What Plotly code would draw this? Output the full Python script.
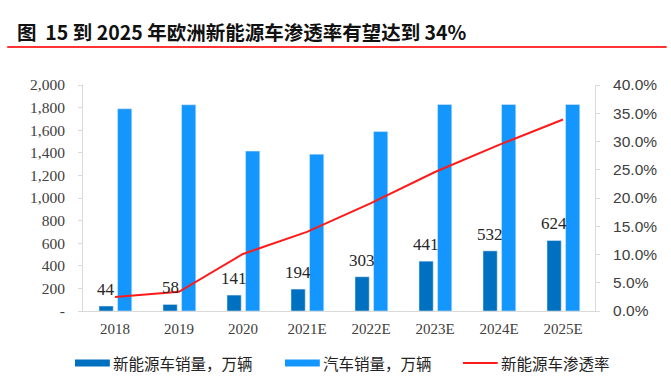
import plotly.graph_objects as go

categories = ["2018", "2019", "2020", "2021E", "2022E", "2023E", "2024E", "2025E"]
nev_sales = [44, 58, 141, 194, 303, 441, 532, 624]
car_sales = [1790, 1825, 1415, 1388, 1588, 1828, 1828, 1828]
penetration = [0.025, 0.034, 0.101, 0.140, 0.191, 0.246, 0.294, 0.339]
left_ticks = [0, 200, 400, 600, 800, 1000, 1200, 1400, 1600, 1800, 2000]
left_tick_text = ["-", "200", "400", "600", "800", "1,000", "1,200", "1,400", "1,600", "1,800", "2,000"]
right_ticks = [0, 0.05, 0.10, 0.15, 0.20, 0.25, 0.30, 0.35, 0.40]

title_text = "图  15 到 2025 年欧洲新能源车渗透率有望达到 34%"
legend_names = ["新能源车销量，万辆", "汽车销量，万辆", "新能源车渗透率"]

DARK = "#0070C0"
LIGHT = "#1496FF"
RED = "#FF1A1A"
SERIF = "Liberation Serif, Times New Roman, serif"
CJK = "Noto Sans CJK SC"

BAR_W = 0.222
DARK_OFF = -0.25
LIGHT_OFF = 0.04

fig = go.Figure()
fig.add_trace(go.Bar(
    x=categories, y=car_sales, name=legend_names[1], marker_color=LIGHT,
    width=BAR_W, offset=LIGHT_OFF, showlegend=False,
))
fig.add_trace(go.Bar(
    x=categories, y=nev_sales, name=legend_names[0], marker_color=DARK,
    width=BAR_W, offset=DARK_OFF, showlegend=False,
))
fig.add_trace(go.Scatter(
    x=categories, y=penetration, name=legend_names[2], yaxis="y2",
    mode="lines", line=dict(color=RED, width=2), showlegend=False,
))

# value labels above the dark bars, placed at the dark bar centre (category index + offset)
for i, v in enumerate(nev_sales):
    fig.add_annotation(
        x=i + DARK_OFF + BAR_W / 2, y=v, xref="x", yref="y", showarrow=False,
        xanchor="center", yanchor="bottom", yshift=5,
        text=str(v), font=dict(family=SERIF, size=17, color="#262626"),
    )

fig.update_layout(
    width=671, height=378,
    margin=dict(l=83, r=76, t=85, b=67),
    paper_bgcolor="white", plot_bgcolor="white",
    barmode="overlay",
    xaxis=dict(
        type="category", categoryorder="array", categoryarray=categories,
        range=[-0.5, len(categories) - 0.5],
        showline=True, linecolor="#D9D9D9", linewidth=1, ticks="",
        tickfont=dict(family=SERIF, size=15, color="#404040"),
        ticklabelstandoff=4,
        showgrid=False,
    ),
    yaxis=dict(
        range=[0, 2000], tickvals=left_ticks, ticktext=left_tick_text,
        showline=True, linecolor="#D9D9D9", linewidth=1,
        ticks="outside", ticklen=4, tickcolor="#D9D9D9",
        ticklabelstandoff=10,
        tickfont=dict(family=SERIF, size=15.5, color="#404040"),
        showgrid=False, zeroline=False,
    ),
    yaxis2=dict(
        range=[0, 0.4], tickvals=right_ticks, tickformat=".1%",
        overlaying="y", side="right",
        showline=True, linecolor="#D9D9D9", linewidth=1,
        ticks="outside", ticklen=4, tickcolor="#D9D9D9",
        ticklabelstandoff=10,
        tickfont=dict(family="Liberation Sans, Arial, sans-serif", size=15.5, color="#404040"),
        showgrid=False, zeroline=False,
    ),
    showlegend=False,
)

# Title and red rule
fig.add_annotation(
    xref="paper", yref="paper", x=-0.133, y=1.0, yshift=54,
    xanchor="left", yanchor="middle", showarrow=False,
    text="<b>" + title_text + "</b>",
    font=dict(family=CJK, size=19.5, color="#111111"),
)
fig.add_shape(type="line", xref="paper", yref="paper",
              x0=-0.148, x1=1.14, y0=1.168, y1=1.168,
              line=dict(color="#FF3333", width=2))

# Manual legend
legend_y = -0.230
items = [(-0.0156, DARK, "bar", legend_names[0]),
         (0.3945, LIGHT, "bar", legend_names[1]),
         (0.742, RED, "line", legend_names[2])]
for x0, color, kind, label in items:
    if kind == "bar":
        fig.add_shape(type="rect", xref="paper", yref="paper",
                      x0=x0, x1=x0 + 0.068, y0=legend_y - 0.0155, y1=legend_y + 0.0155,
                      fillcolor=color, line=dict(width=0))
    else:
        fig.add_shape(type="line", xref="paper", yref="paper",
                      x0=x0, x1=x0 + 0.068, y0=legend_y, y1=legend_y,
                      line=dict(color=color, width=2))
    fig.add_annotation(xref="paper", yref="paper", x=x0 + 0.070, y=legend_y,
                       xanchor="left", yanchor="middle", showarrow=False,
                       text=label, font=dict(family=CJK, size=15.5, color="#222222"))

fig.write_html("out.html", config={"displayModeBar": False},
               post_script="document.body.style.margin='0';")
